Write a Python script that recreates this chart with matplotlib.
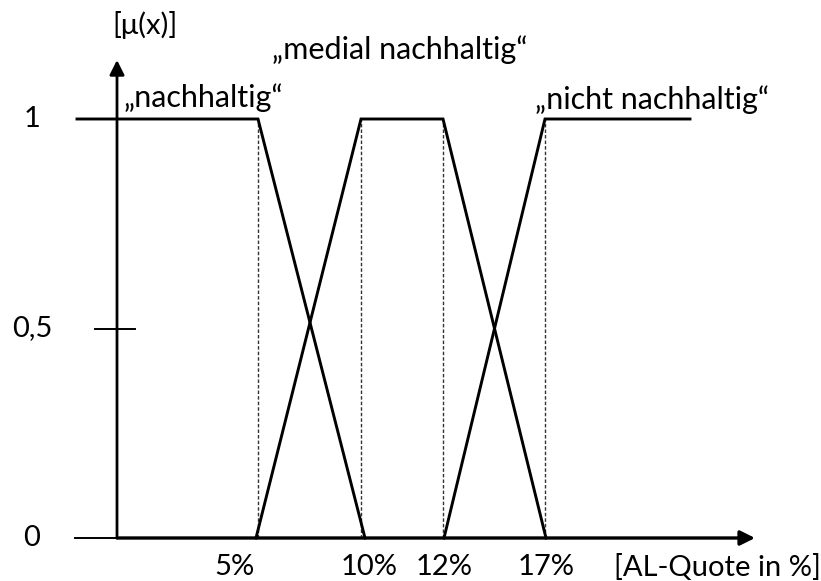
import matplotlib
matplotlib.use("Agg")
import matplotlib.pyplot as plt

plt.rcParams['font.family'] = ['Lato', 'DejaVu Sans']

# Zugehoerigkeitsfunktionen (x in Achseneinheiten, y = mu(x))
nach_x = [-40, 141, 248]
nach_y = [1, 1, 0]
medial_x = [139, 244, 326, 429]
medial_y = [0, 1, 1, 0]
nicht_x = [327, 428, 573]
nicht_y = [0, 1, 1]

grenzen = [141, 244, 326, 428]          # gestrichelte Hilfslinien
xtick_pos = [117, 252, 327, 429]
xtick_lab = ["5%", "10%", "12%", "17%"]
ytick_pos = [1, 0.5, 0]
ytick_lab = ["1", "0,5", "0"]

fig = plt.figure(figsize=(8.21, 5.81), dpi=100)
ax = fig.add_axes([0, 0, 1, 1])
ax.set_xlim(-117, 704)
ax.set_ylim(-43 / 419, 538 / 419)
ax.set_axis_off()

# Achsen mit Pfeilen
ax.annotate("", xy=(638, 0), xytext=(0, 0),
            arrowprops=dict(arrowstyle="-|>", lw=2.4, color="black",
                            mutation_scale=22, shrinkA=0, shrinkB=0))
ax.annotate("", xy=(0, 478 / 419), xytext=(0, 0),
            arrowprops=dict(arrowstyle="-|>", lw=2, color="black",
                            mutation_scale=22, shrinkA=0, shrinkB=0))
ax.plot([-42, 0], [0, 0], color="black", lw=1.4)
ax.plot([-22, 18], [0.5, 0.5], color="black", lw=1.4)

# gestrichelte Linien
for g in grenzen:
    ax.plot([g, g], [0, 1], color="#333333", lw=1.0, ls=(0, (2.5, 1.5)))

for xs, ys in [(nach_x, nach_y), (medial_x, medial_y), (nicht_x, nicht_y)]:
    ax.plot(xs, ys, color="black", lw=2.1, solid_joinstyle="miter")

fs = 21
for p, l in zip(xtick_pos, xtick_lab):
    ax.text(p, -29 / 419, l, ha="center", va="center", fontsize=fs)
for p, l in zip(ytick_pos, ytick_lab):
    ax.text(-85, p, l, ha="center", va="center", fontsize=fs)

ax.text(600, -29 / 419, "[AL-Quote in %]", ha="center", va="center", fontsize=fs)
ax.text(28, 513 / 419, "[\u03bc(x)]", ha="center", va="center", fontsize=fs)
ax.text(86, 440 / 419, "\u201enachhaltig\u201c", ha="center", va="center", fontsize=22)
ax.text(283, 488 / 419, "\u201emedial nachhaltig\u201c", ha="center", va="center", fontsize=22)
ax.text(535, 438 / 419, "\u201enicht nachhaltig\u201c", ha="center", va="center", fontsize=22)

fig.savefig("out.png", dpi=100)
